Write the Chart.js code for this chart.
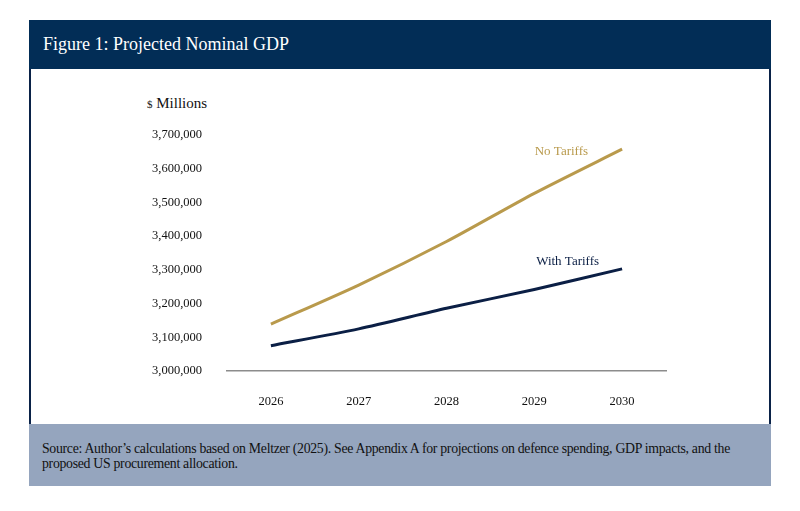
<!DOCTYPE html>
<html>
<head>
<meta charset="utf-8">
<script src="https://cdn.jsdelivr.net/npm/chart.js@4"></script>
<style>
  html, body { margin: 0; padding: 0; background: #fff; width: 800px; height: 511px; overflow: hidden; }
  body { font-family: "Liberation Serif", "DejaVu Serif", serif; position: relative; }
  #header {
    position: absolute; left: 29px; top: 20px; width: 742px; height: 49px;
    background: #022d56; color: #fff; font-size: 18px; line-height: 49px;
    box-sizing: border-box; padding-left: 14px;
  }
  #panel {
    position: absolute; left: 29px; top: 69px; width: 742px; height: 355px;
    border-left: 2px solid #0a2248; border-right: 2px solid #0a2248; box-sizing: border-box;
  }
  #units { position: absolute; left: 147px; top: 95px; font-size: 15px; color: #111; }
  #units span { font-size: 11px; }
  #footer {
    position: absolute; left: 29px; top: 424px; width: 742px; height: 62px;
    background: #95a5be; color: #111; font-size: 13.8px; line-height: 15px;
    box-sizing: border-box; padding: 17px 13px 0 13px; letter-spacing: -0.3px;
  }
  #wrap { position: absolute; left: 31px; top: 69px; width: 738px; height: 355px; }
</style>
</head>
<body>
<div id="header">Figure 1: Projected Nominal GDP</div>
<div id="panel"></div>
<div id="units"><span>$</span> Millions</div>
<div id="wrap"><canvas id="gdpChart" width="738" height="355"></canvas></div>
<div id="footer">Source: Author’s calculations based on Meltzer (2025). See Appendix A for projections on defence spending, GDP impacts, and the proposed US procurement allocation.</div>
<script>
const years = ["2026", "2027", "2028", "2029", "2030"];
const noTariffs = [3139000, 3255000, 3384000, 3527000, 3658000];
const withTariffs = [3075000, 3125000, 3186000, 3242000, 3303000];
const yTicks = [3000000, 3100000, 3200000, 3300000, 3400000, 3500000, 3600000, 3700000];

const gold = "#b99a4c";
const navy = "#0b1f45";

// writes the series name beside the last point of each line
const endLabels = {
  id: "endLabels",
  afterDatasetsDraw(chart) {
    const c = chart.ctx;
    c.save();
    c.font = "13px 'Liberation Serif', serif";
    c.textAlign = "right";
    c.textBaseline = "middle";
    chart.data.datasets.forEach((ds, i) => {
      const pts = chart.getDatasetMeta(i).data;
      const last = pts[pts.length - 1];
      c.fillStyle = ds.borderColor;
      c.fillText(ds.label, last.x + ds.labelDx, last.y + ds.labelDy);
    });
    c.restore();
  },
};

new Chart(document.getElementById("gdpChart"), {
  type: "line",
  data: {
    labels: years,
    datasets: [
      { label: "No Tariffs", data: noTariffs, borderColor: gold, borderWidth: 3, tension: 0.25, pointRadius: 0, labelDx: -34, labelDy: 2 },
      { label: "With Tariffs", data: withTariffs, borderColor: navy, borderWidth: 3, tension: 0.25, pointRadius: 0, labelDx: -23, labelDy: -7 },
    ],
  },
  options: {
    responsive: false,
    animation: false,
    layout: { padding: { top: 66, right: 103, left: 0, bottom: 0 } },
    plugins: { legend: { display: false }, tooltip: { enabled: false } },
    scales: {
      x: {
        offset: true,
        grid: { display: false },
        border: { display: true, color: "#8c8c8c", width: 1.5 },
        ticks: { color: "#111", padding: 15, font: { family: "Liberation Serif", size: 12.5 } },
        afterFit: (s) => { s.height = 53; },
      },
      y: {
        min: 3000000,
        max: 3700000,
        grid: { display: false, drawTicks: false },
        border: { display: false },
        afterBuildTicks: (s) => { s.ticks = yTicks.map((v) => ({ value: v })); },
        ticks: {
          color: "#111",
          padding: 25,
          font: { family: "Liberation Serif", size: 12.5 },
          callback: (v) => v.toLocaleString("en-US"),
        },
        afterFit: (s) => { s.width = 196; },
      },
    },
  },
  plugins: [endLabels],
});
</script>
</body>
</html>
